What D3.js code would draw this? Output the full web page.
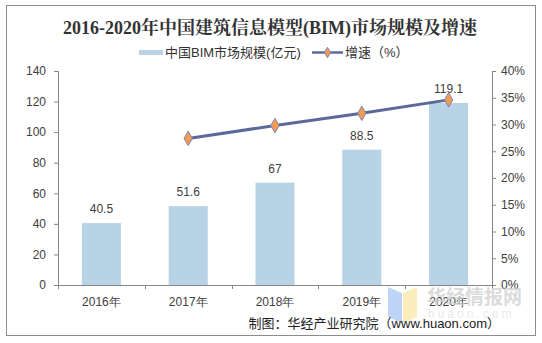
<!DOCTYPE html>
<html>
<head>
<meta charset="utf-8">
<script src="https://cdn.jsdelivr.net/npm/d3@7"></script>
<style>
  body { margin: 0; background: #fff; }
  svg { display: block; font-family: Arial, "Liberation Sans", "Noto Sans CJK SC", sans-serif; }
</style>
</head>
<body>
<div id="chart"></div>
<script>
var years = ["2016年", "2017年", "2018年", "2019年", "2020年"];
var marketSize = [40.5, 51.6, 67, 88.5, 119.1];
var growth = [null, 27.4, 29.8, 32.1, 34.6];
var leftTicks = [0, 20, 40, 60, 80, 100, 120, 140];
var rightTicks = [0, 5, 10, 15, 20, 25, 30, 35, 40];

var W = 542, H = 343;
var margin = {top: 71, right: 50, bottom: 58, left: 58};
var width = W - margin.left - margin.right,
    height = H - margin.top - margin.bottom;

var svg = d3.select("#chart")
    .append("svg")
        .attr("width", W)
        .attr("height", H);

// outer frame
svg.append("rect")
    .attr("x", 6.5).attr("y", 5.5)
    .attr("width", 529).attr("height", 330)
    .attr("fill", "none")
    .attr("stroke", "#8c8c8c")
    .attr("stroke-width", 1);

svg.append("text")
    .attr("x", 270)
    .attr("y", 34)
    .attr("text-anchor", "middle")
    .style("font-family", "'Liberation Serif', 'Noto Serif CJK SC', 'Noto Sans CJK SC', serif")
    .style("font-size", "18px")
    .style("font-weight", "bold")
    .attr("fill", "#333")
    .text("2016-2020年中国建筑信息模型(BIM)市场规模及增速");

// legend
var legend = svg.append("g").style("font-size", "13px").attr("fill", "#333");
legend.append("rect")
    .attr("x", 139).attr("y", 50)
    .attr("width", 24).attr("height", 5)
    .attr("fill", "#b8d3e6");
legend.append("text")
    .attr("x", 165).attr("y", 57)
    .text("中国BIM市场规模(亿元)");
legend.append("line")
    .attr("x1", 312).attr("x2", 343)
    .attr("y1", 52.5).attr("y2", 52.5)
    .attr("stroke", "#5b6a9a").attr("stroke-width", 2.5);
legend.append("path")
    .attr("d", d3.symbol(d3.symbolDiamond, 32)())
    .attr("transform", "translate(327.5,52.5)")
    .attr("fill", "#f39b52").attr("stroke", "#7b86b4");
legend.append("text")
    .attr("x", 345).attr("y", 57)
    .text("增速（%）");

var g = svg.append("g")
    .attr("transform", "translate(" + margin.left + "," + margin.top + ")");

var x = d3.scaleBand()
    .domain(years)
    .range([0, width])
    .paddingInner(0.55)
    .paddingOuter(0.275);

var y = d3.scaleLinear()
    .domain([0, 140])
    .range([height, 0]);

var y2 = d3.scaleLinear()
    .domain([0, 40])
    .range([height, 0]);

function styleAxis(sel) {
    sel.selectAll("path, line").attr("stroke", "#868686");
    sel.selectAll("text").attr("fill", "#404040").style("font-size", "12px");
}

g.append("g")
    .call(d3.axisLeft(y).tickValues(leftTicks).tickSize(4).tickPadding(8))
    .call(styleAxis)
    .call(function(a) { a.select(".domain").attr("d", "M-4,0.5H0.5V" + height); });

g.append("g")
    .attr("transform", "translate(" + width + ",0)")
    .call(d3.axisRight(y2).tickValues(rightTicks).tickSize(4).tickPadding(5)
        .tickFormat(function(d) { return d + "%"; }))
    .call(styleAxis);

var xAxis = g.append("g")
    .attr("transform", "translate(0," + height + ")")
    .call(d3.axisBottom(x).tickSize(0).tickPadding(12))
    .call(styleAxis);

// category boundary ticks
xAxis.selectAll(".sep")
    .data(d3.range(years.length + 1))
    .enter()
    .append("line")
    .attr("class", "sep")
    .attr("x1", function(i) { return Math.round(i * width / years.length) + 0.5; })
    .attr("x2", function(i) { return Math.round(i * width / years.length) + 0.5; })
    .attr("y1", 0).attr("y2", 4)
    .attr("stroke", "#868686");

g.selectAll(".bar")
    .data(marketSize)
    .enter()
    .append("rect")
    .attr("class", "bar")
    .attr("x", function(d, i) { return x(years[i]); })
    .attr("y", function(d) { return y(d); })
    .attr("width", x.bandwidth())
    .attr("height", function(d) { return height - y(d); })
    .attr("fill", "#b8d3e6");

g.selectAll(".bar-label")
    .data(marketSize)
    .enter()
    .append("text")
    .attr("class", "bar-label")
    .attr("x", function(d, i) { return x(years[i]) + x.bandwidth() / 2; })
    .attr("y", function(d) { return y(d) - 10; })
    .attr("text-anchor", "middle")
    .attr("fill", "#404040")
    .style("font-size", "12px")
    .text(function(d) { return d; });

var pts = growth.map(function(d, i) { return {year: years[i], v: d}; })
    .filter(function(d) { return d.v !== null; });

var line = d3.line()
    .x(function(d) { return x(d.year) + x.bandwidth() / 2; })
    .y(function(d) { return y2(d.v); });

g.append("path")
    .datum(pts)
    .attr("d", line)
    .attr("fill", "none")
    .attr("stroke", "#5b6a9a")
    .attr("stroke-width", 3);

g.selectAll(".marker")
    .data(pts)
    .enter()
    .append("path")
    .attr("class", "marker")
    .attr("d", d3.symbol(d3.symbolDiamond, 60)())
    .attr("transform", function(d) {
        return "translate(" + (x(d.year) + x.bandwidth() / 2) + "," + y2(d.v) + ")";
    })
    .attr("fill", "#f39b52")
    .attr("stroke", "#7b86b4")
    .attr("stroke-width", 1);

// site mark
var mark = svg.append("g").attr("opacity", 0.75);
mark.append("path")
    .attr("d", "M388,287 L402,293 L402,323 L388,317 Z")
    .attr("fill", "#a9c8f5");
mark.append("path")
    .attr("d", "M403,293 L417,287 L417,317 L403,323 Z")
    .attr("fill", "#fbe9a6");
mark.append("text")
    .attr("x", 427).attr("y", 304)
    .style("font-size", "19px")
    .style("font-weight", "bold")
    .attr("fill", "#d0d0d0")
    .text("华经情报网");
mark.append("text")
    .attr("x", 428).attr("y", 318)
    .style("font-size", "12px")
    .attr("fill", "#e4e4e4")
    .style("letter-spacing", "3px")
    .text("huaon.com");

svg.append("text")
    .attr("x", 500)
    .attr("y", 328)
    .attr("text-anchor", "end")
    .style("font-size", "13px")
    .attr("fill", "#222")
    .text("制图：华经产业研究院（www.huaon.com）");
</script>
</body>
</html>
